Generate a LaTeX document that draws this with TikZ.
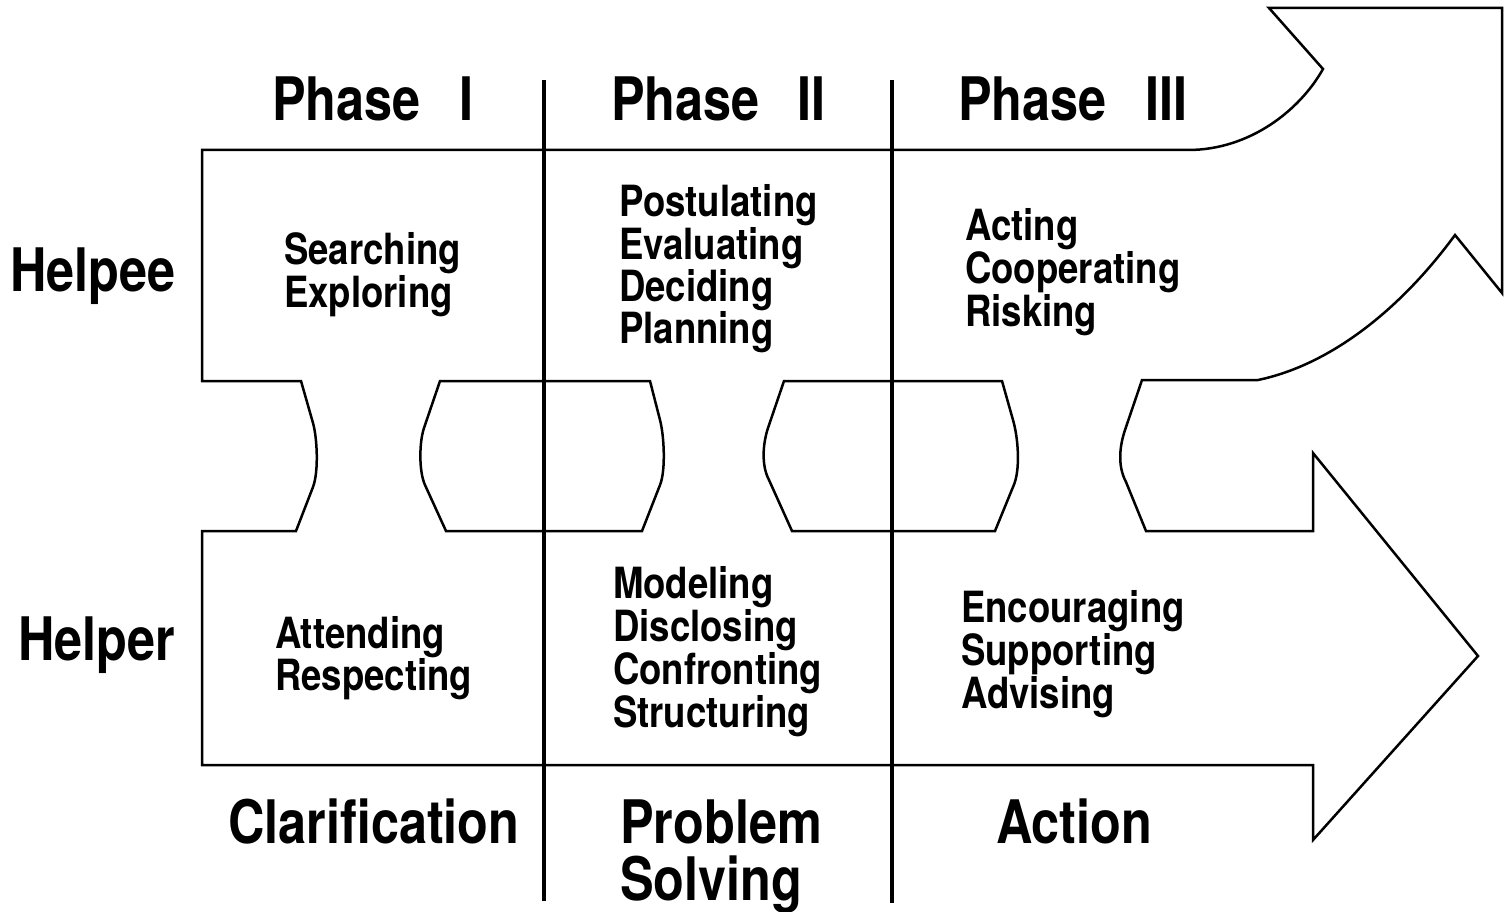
\documentclass[tikz,border=0pt]{standalone}
\usepackage{fontspec}
\newfontfamily\hv[FakeStretch=0.85]{TeX Gyre Heros}
\newfontfamily\hvbig[FakeStretch=0.84]{TeX Gyre Heros}
\begin{document}
\begin{tikzpicture}[x=1pt,y=-1pt,
  outline/.style={draw=black,line width=2.5pt,line join=miter},
  divider/.style={draw=black,line width=4.5pt},
  big/.style={font=\hvbig\bfseries\fontsize{60}{60}\selectfont,anchor=base west,inner sep=0pt},
  small/.style={font=\hv\bfseries\fontsize{43}{43}\selectfont,anchor=base west,inner sep=0pt}]
\useasboundingbox (0,0) rectangle (1505,912);
% main outline with both arrows
\draw[outline] (202,150) -- (1188,150)
  .. controls (1250,150) and (1300,110) .. (1323,69)
  -- (1269,8) -- (1502,8) -- (1502,293) -- (1455,235)
  .. controls (1400,310) and (1330,365) .. (1258,380)
  -- (1142,380) -- (1125,430)
  .. controls (1120,445) and (1117,465) .. (1126,482)
  -- (1146,531) -- (1313,531) -- (1313,453) -- (1478,656)
  -- (1313,840) -- (1313,765) -- (202,765) -- (202,531) -- (296,531)
  -- (313,487) .. controls (319,471) and (317,437) .. (313,423)
  -- (301,381) -- (202,381) -- cycle;
% barrel 1
\draw[outline] (440,381) -- (650,381) -- (660,420)
  .. controls (664,435) and (666,470) .. (660,485)
  -- (642,531) -- (446,531) -- (425,485)
  .. controls (419,472) and (419,443) .. (424,428) -- cycle;
% barrel 2
\draw[outline] (784,381) -- (1002,381) -- (1013,420)
  .. controls (1018,437) and (1021,470) .. (1013,487)
  -- (995,531) -- (792,531) -- (769,480)
  .. controls (761,465) and (763,443) .. (768,428) -- cycle;
% dividers
\coordinate (d1t) at (544,80); \coordinate (d1b) at (544,901);
\coordinate (d2t) at (892,80); \coordinate (d2b) at (892,903);
\draw[divider] (d1t) -- (d1b);
\draw[divider] (d2t) -- (d2b);
% headers
\node[big] (ph1) at (272,121) {Phase\hspace{38.5pt}I};
\node[big] (ph2) at (611,121) {Phase\hspace{37.5pt}II};
\node[big] (ph3) at (958,121) {Phase\hspace{38.5pt}III};
\node[big] (helpee) at (10,291) {Helpee};
\node[big] (helper) at (18,660) {Helper};
\node[big] (clar) at (228,843) {Clarification};
\node[big] (prob1) at (620,843) {Problem};
\node[big] (prob2) at (620,900) {Solving};
\node[big] (act) at (996,843) {Action};
% helpee activities
\foreach \t [count=\i] in {Searching,Exploring}
  \node[small] (a\i) at (284,{265+42*(\i-1)}) {\t};
\foreach \t [count=\i] in {Postulating,Evaluating,Deciding,Planning}
  \node[small] (b\i) at (619,{217+42.3*(\i-1)}) {\t};
\foreach \t [count=\i] in {Acting,Cooperating,Risking}
  \node[small] (c\i) at (965,{241+42.5*(\i-1)}) {\t};
% helper activities
\foreach \t [count=\i] in {Attending,Respecting}
  \node[small] (d\i) at (275,{648+42*(\i-1)}) {\t};
\foreach \t [count=\i] in {Modeling,Disclosing,Confronting,Structuring}
  \node[small] (e\i) at (613,{598+43*(\i-1)}) {\t};
\foreach \t [count=\i] in {Encouraging,Supporting,Advising}
  \node[small] (f\i) at (961,{622+43*(\i-1)}) {\t};
\end{tikzpicture}
\end{document}
